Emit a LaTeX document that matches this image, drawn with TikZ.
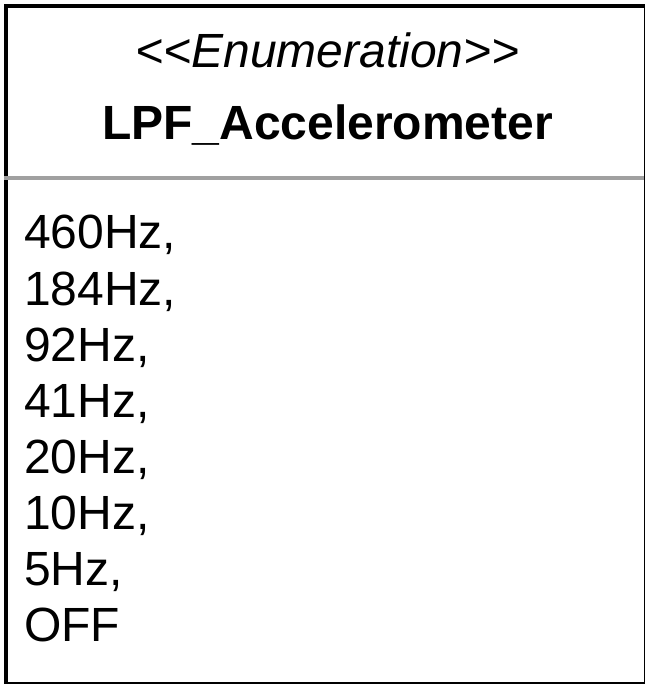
\documentclass[tikz,border=0pt]{standalone}
\usepackage{fontspec}
\setmainfont{Liberation Sans}
\definecolor{sepgray}{HTML}{A0A0A0}
\begin{document}
\begin{tikzpicture}[x=1pt,y=-1pt,
  txt/.style={inner sep=0pt,font=\fontsize{48}{56}\selectfont},
  item/.style={txt,anchor=base west},
  head/.style={txt,anchor=base}]
\useasboundingbox (0,0) rectangle (644,684);
\node[draw=black,line width=4pt,minimum width=640pt,minimum height=678pt,inner sep=0pt,anchor=north west] (box) at (4,4) {};
\coordinate (sepL) at (4,178);
\coordinate (sepR) at (644,178);
\draw[sepgray,line width=3.5pt] (sepL) -- (sepR);
\node[head] (stereo) at (327.5,68) {\itshape {<}{<}Enumeration{>}{>}};
\node[head] (name) at (327.5,140) {\bfseries LPF\_Accelerometer};
\node[item] (i1) at (24,249) {460Hz,};
\node[item] (i2) at (24,305) {184Hz,};
\node[item] (i3) at (24,361) {92Hz,};
\node[item] (i4) at (24,417) {41Hz,};
\node[item] (i5) at (24,473) {20Hz,};
\node[item] (i6) at (24,529) {10Hz,};
\node[item] (i7) at (24,585) {5Hz,};
\node[item] (i8) at (24,641) {OFF};
\end{tikzpicture}
\end{document}
